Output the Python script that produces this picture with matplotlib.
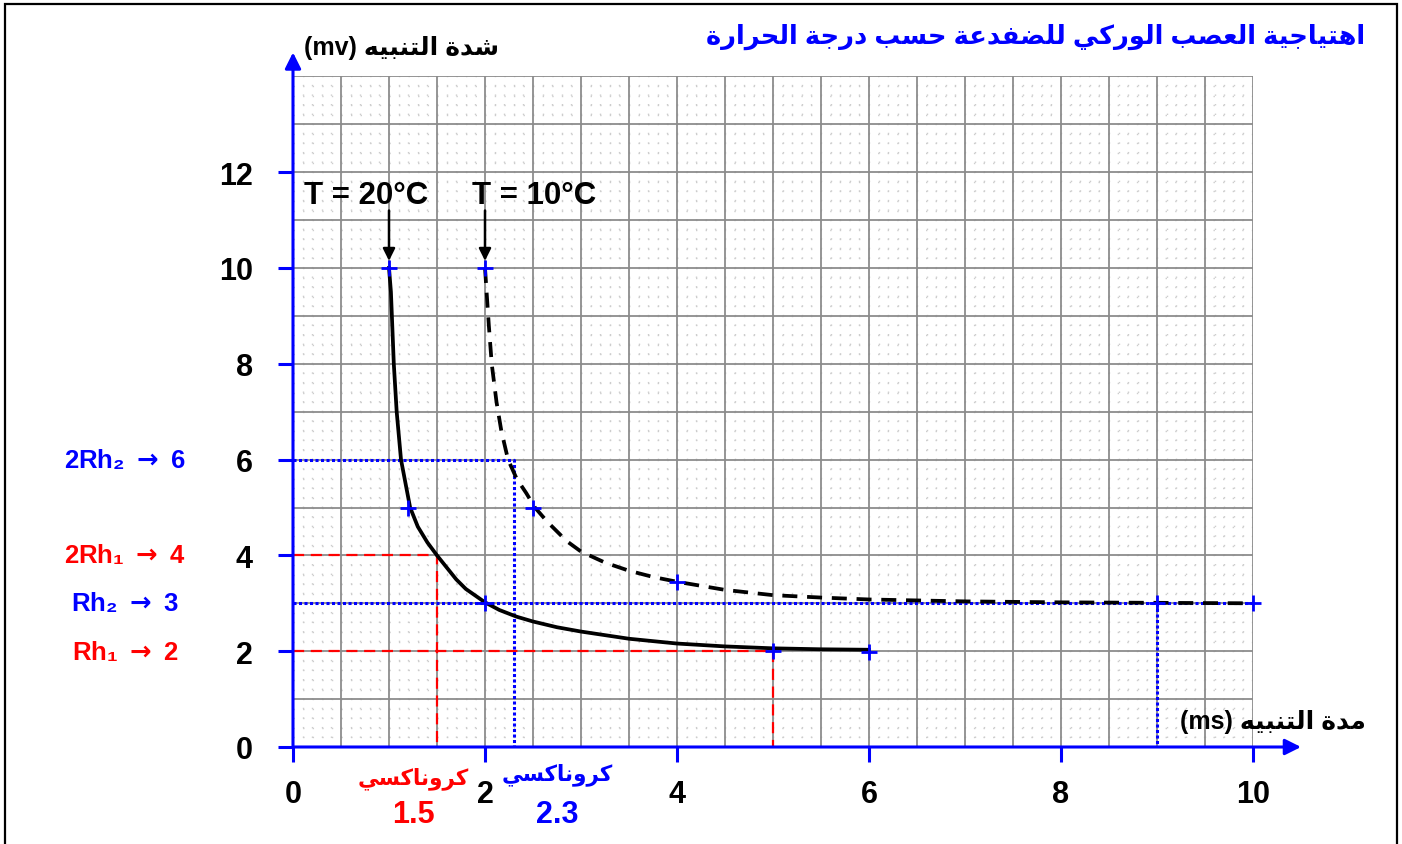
import numpy as np
import matplotlib
matplotlib.use('Agg')
import matplotlib.pyplot as plt
from matplotlib.patches import Rectangle

# ---------------- data ----------------
x_ticks = [0, 2, 4, 6, 8, 10]
y_ticks = [0, 2, 4, 6, 8, 10, 12]

# T = 20°C curve (solid)
t20 = [1.0, 1.02, 1.03, 1.05, 1.08, 1.125, 1.22, 1.3, 1.4, 1.5, 1.6, 1.7, 1.8, 2.0, 2.15, 2.33, 2.5,
       2.75, 3.0, 3.5, 4.0, 4.5, 5.0, 5.5, 6.0]
i20 = [10.0, 9.5, 9.0, 8.0, 7.0, 6.0, 5.0, 4.6, 4.27, 4.0, 3.75, 3.5, 3.3, 3.02, 2.86, 2.72, 2.62,
       2.5, 2.41, 2.26, 2.16, 2.1, 2.06, 2.04, 2.03]

# T = 10°C curve (dashed)
t10 = [2.0, 2.02, 2.04, 2.07, 2.12, 2.17, 2.24, 2.33, 2.43, 2.52, 2.65, 2.85, 3.0, 3.25, 3.5, 3.75,
       4.0, 4.5, 5.0, 5.5, 6.0, 7.0, 8.0, 9.0, 10.0]
i10 = [10.0, 9.4, 8.8, 8.0, 7.2, 6.6, 6.0, 5.6, 5.3, 5.0, 4.7, 4.3, 4.08, 3.85, 3.68, 3.55,
       3.45, 3.28, 3.17, 3.12, 3.08, 3.04, 3.02, 3.01, 3.0]

# blue "+" points
mark_t = [1, 1.2, 2, 2.5, 4, 2, 5, 6, 9, 10]
mark_i = [10, 5, 10, 5, 3.45, 3, 2, 1.98, 3, 3]

rh1, rh2 = 2, 3
chron1, chron2 = 1.5, 2.3
rh1_end, rh2_end = 5, 9

title = "اهتياجية العصب الوركي للضفدعة حسب درجة الحرارة"
ylab_ar = "شدة التنبيه"
xlab_ar = "مدة التنبيه"
chron_word = "كروناكسي"

# ---------------- arabic shaping ----------------
FORMS = {
    'ا': (0xFE8D, 0xFE8E, None, None),
    'ب': (0xFE8F, 0xFE90, 0xFE91, 0xFE92),
    'ة': (0xFE93, 0xFE94, None, None),
    'ت': (0xFE95, 0xFE96, 0xFE97, 0xFE98),
    'ج': (0xFE9D, 0xFE9E, 0xFE9F, 0xFEA0),
    'ح': (0xFEA1, 0xFEA2, 0xFEA3, 0xFEA4),
    'د': (0xFEA9, 0xFEAA, None, None),
    'ر': (0xFEAD, 0xFEAE, None, None),
    'س': (0xFEB1, 0xFEB2, 0xFEB3, 0xFEB4),
    'ش': (0xFEB5, 0xFEB6, 0xFEB7, 0xFEB8),
    'ص': (0xFEB9, 0xFEBA, 0xFEBB, 0xFEBC),
    'ض': (0xFEBD, 0xFEBE, 0xFEBF, 0xFEC0),
    'ع': (0xFEC9, 0xFECA, 0xFECB, 0xFECC),
    'ف': (0xFED1, 0xFED2, 0xFED3, 0xFED4),
    'ك': (0xFED9, 0xFEDA, 0xFEDB, 0xFEDC),
    'ل': (0xFEDD, 0xFEDE, 0xFEDF, 0xFEE0),
    'م': (0xFEE1, 0xFEE2, 0xFEE3, 0xFEE4),
    'ن': (0xFEE5, 0xFEE6, 0xFEE7, 0xFEE8),
    'ه': (0xFEE9, 0xFEEA, 0xFEEB, 0xFEEC),
    'و': (0xFEED, 0xFEEE, None, None),
    'ي': (0xFEF1, 0xFEF2, 0xFEF3, 0xFEF4),
}


def shape(text):
    out = []
    n = len(text)
    for i, c in enumerate(text):
        if c not in FORMS:
            out.append(c)
            continue
        prev = text[i - 1] if i > 0 else None
        nxt = text[i + 1] if i + 1 < n else None
        jp = prev in FORMS and FORMS[prev][2] is not None
        jn = FORMS[c][2] is not None and nxt in FORMS
        iso, fin, ini, med = FORMS[c]
        if jp and jn:
            f = med
        elif jp:
            f = fin
        elif jn:
            f = ini
        else:
            f = iso
        out.append(chr(f))
    return ''.join(reversed(out))


# ---------------- figure ----------------
plt.rcParams['font.family'] = ['Liberation Sans', 'DejaVu Sans']
plt.rcParams['font.weight'] = 'bold'
plt.rcParams['mathtext.fontset'] = 'dejavusans'

W, H = 1402, 845
fig = plt.figure(figsize=(W / 100, H / 100), dpi=100)
fig.patch.set_facecolor('white')
fig.patches.append(Rectangle((5 / W, -0.05), 1392 / W, 1.05 - 5 / H, transform=fig.transFigure,
                             fill=False, edgecolor='black', lw=1.6))

x0px, x10px, y0px, ppu = 293, 1253, 748, 47.9
ax = fig.add_axes([x0px / W, (H - y0px) / H, (x10px - x0px) / W, 14 * ppu / H])
ax.set_xlim(0, 10)
ax.set_ylim(0, 14)
for s in ax.spines.values():
    s.set_visible(False)
ax.patch.set_alpha(0)

# grid
ax.vlines(np.arange(0.1, 10.001, 0.1), 0, 14, colors='#cdcdcd', lw=1.0, linestyles=(0, (1, 5.9)), zorder=1)
ax.hlines(np.arange(0.2, 14.001, 0.2), 0, 10, colors='#cdcdcd', lw=1.0, linestyles=(0, (1, 5.9)), zorder=1)
ax.vlines(np.arange(0.5, 10.001, 0.5), 0, 14, colors='#8c8c8c', lw=1.3, zorder=1.5)
ax.hlines(np.arange(1, 14.001, 1), 0, 10, colors='#8c8c8c', lw=1.3, zorder=1.5)

# reference lines
red_ls = (0, (5, 3))
ax.plot([0, chron1, chron1], [2 * rh1, 2 * rh1, 0], color='red', lw=1.6, ls=red_ls, zorder=3)
ax.plot([0, rh1_end, rh1_end], [rh1, rh1, 0], color='red', lw=1.6, ls=red_ls, zorder=3)
blue_ls = (0, (1, 0.8))
ax.plot([0, chron2, chron2], [2 * rh2, 2 * rh2, 0], color='blue', lw=2.2, ls=blue_ls, zorder=3)
ax.plot([0, 10], [rh2, rh2], color='blue', lw=2.2, ls=blue_ls, zorder=3)
ax.plot([rh2_end, rh2_end], [rh2, 0], color='blue', lw=2.2, ls=blue_ls, zorder=3)

# curves
ax.plot(t20, i20, color='black', lw=2.7, zorder=4, solid_joinstyle='round')
ax.plot(t10, i10, color='black', lw=2.7, ls=(0, (4, 2.6)), zorder=4)
ax.plot(mark_t, mark_i, ls='none', marker='+', ms=11, mew=2, color='blue', zorder=6, clip_on=False)

# axes with arrows
ap = dict(arrowstyle='-|>', color='blue', lw=2.2, mutation_scale=24, shrinkA=0, shrinkB=0)
ax.annotate('', xy=(10.5, 0), xytext=(0, 0), arrowprops=ap, annotation_clip=False, zorder=7)
ax.annotate('', xy=(0, 14.5), xytext=(0, 0), arrowprops=ap, annotation_clip=False, zorder=7)

# ticks
ax.set_xticks(x_ticks)
ax.set_xticklabels([str(v) for v in x_ticks], fontsize=22, fontweight='bold')
ax.set_yticks(y_ticks)
ax.set_yticklabels([str(v) for v in y_ticks], fontsize=22, fontweight='bold')
ax.tick_params(axis='x', length=11, width=2.2, color='blue', direction='out', pad=12)
ax.tick_params(axis='y', length=11, width=2.2, color='blue', direction='out', pad=18)

# temperature labels & arrows
ax.text(0.76, 11.52, 'T = 20°C', fontsize=22.5, fontweight='bold', ha='center', va='center')
ax.text(2.51, 11.52, 'T = 10°C', fontsize=22.5, fontweight='bold', ha='center', va='center')
ap2 = dict(arrowstyle='-|>', color='black', lw=1.8, mutation_scale=18, shrinkA=0, shrinkB=0)
ax.annotate('', xy=(1.0, 10.15), xytext=(1.0, 11.2), arrowprops=ap2)
ax.annotate('', xy=(2.0, 10.15), xytext=(2.0, 11.2), arrowprops=ap2)

# left annotations
lx = -1.75
arr = r' $\mathbf{\rightarrow}$ '
ax.text(lx, 2 * rh2, '2Rh₂' + arr + '6', color='blue', fontsize=18.5, ha='center', va='center', fontweight='bold')
ax.text(lx, 2 * rh1, '2Rh₁' + arr + '4', color='red', fontsize=18.5, ha='center', va='center', fontweight='bold')
ax.text(lx, rh2, 'Rh₂' + arr + '3', color='blue', fontsize=18.5, ha='center', va='center', fontweight='bold')
ax.text(lx, rh1 - 0.02, 'Rh₁' + arr + '2', color='red', fontsize=18.5, ha='center', va='center', fontweight='bold')

# chronaxie labels
ax.text(1.25, -0.63, shape(chron_word), color='red', fontsize=15.5, ha='center', va='center', fontweight='bold')
ax.text(1.25, -1.40, str(chron1), color='red', fontsize=22, ha='center', va='center', fontweight='bold')
ax.text(2.75, -0.56, shape(chron_word), color='blue', fontsize=15.5, ha='center', va='center', fontweight='bold')
ax.text(2.75, -1.40, str(chron2), color='blue', fontsize=22, ha='center', va='center', fontweight='bold')

# axis labels
ax.text(10.21, 0.54, '(ms) ' + shape(xlab_ar), fontsize=18, ha='center', va='center', fontweight='bold')
ax.text(1.135, 14.61, '(mv) ' + shape(ylab_ar), fontsize=18, ha='center', va='center', fontweight='bold')

# title
ax.text(11.17, 14.84, shape(title), color='blue', fontsize=18.5, ha='right', va='center', fontweight='bold')

fig.savefig('out.png', dpi=100)
